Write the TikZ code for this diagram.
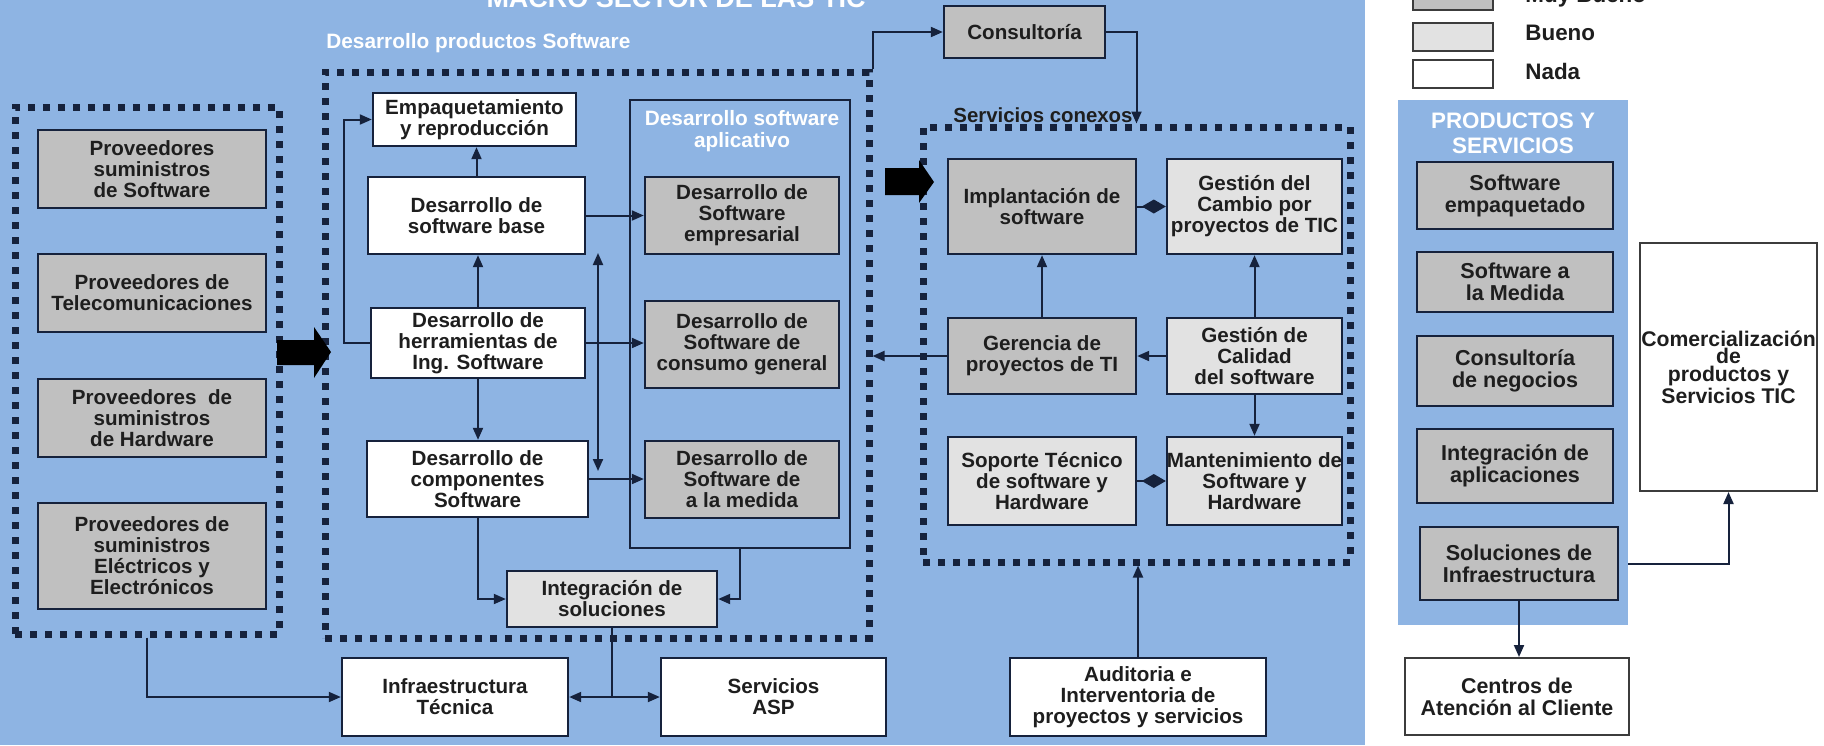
\documentclass[tikz,border=0pt]{standalone}
\usepackage{fontspec}
\setmainfont{Liberation Sans}
\usetikzlibrary{arrows.meta}
\definecolor{bgblue}{RGB}{142,180,227}
\definecolor{navy}{RGB}{22,34,60}
\definecolor{mbgray}{RGB}{192,192,192}
\definecolor{bgray}{RGB}{226,226,226}
\definecolor{txt}{RGB}{30,30,30}
\definecolor{lgborder}{RGB}{60,60,60}
\begin{document}
\begin{tikzpicture}[x=0.5pt,y=-0.5pt,
  px/.style args={#1/#2/#3/#4}{at={({(#1+#3)/2},{(#2+#4)/2})}, minimum width={(#3-#1)*0.5pt}, minimum height={(#4-#2)*0.5pt}},
  bx/.style={draw=navy, line width=1.2pt, inner sep=0pt, align=center, text=txt, font=\bfseries\fontsize{10.3}{10.5}\selectfont},
  mb/.style={bx, fill=mbgray},
  bu/.style={bx, fill=bgray},
  wh/.style={bx, fill=white},
  rbx/.style={bx, fill=mbgray, font=\bfseries\fontsize{10.8}{11}\selectfont},
  dotbox/.style={draw=navy, line width=3.5pt, dash pattern=on 3.5pt off 4pt, inner sep=0pt},
  arr/.style={draw=navy, line width=1pt, -{Triangle[length=6pt,width=5pt]}},
  arrtwo/.style={draw=navy, line width=1pt, {Triangle[length=6pt,width=5pt]}-{Triangle[length=6pt,width=5pt]}},
  ln/.style={draw=navy, line width=1pt},
  dia/.style={draw=navy, line width=1pt, -{Diamond[length=12pt,width=7pt]}},
  wlbl/.style={text=white, align=center, inner sep=0pt, font=\bfseries\fontsize{10.4}{11}\selectfont},
  lgbox/.style={draw=lgborder, line width=1.2pt, inner sep=0pt},
  lgtxt/.style={anchor=base west, inner sep=0pt, text=txt, font=\bfseries\fontsize{11.2}{12}\selectfont}
]
\useasboundingbox (0,0) rectangle (1824,745);
\fill[white] (0,0) rectangle (1824,745);
\fill[bgblue] (0,0) rectangle (1365,745);

% titles
\node[anchor=base, inner sep=0pt, text=white, font=\bfseries\fontsize{13.5}{14}\selectfont] (title) at (676,7) {MACRO SECTOR DE LAS TIC};
\node[wlbl, anchor=west] (lbldp) at (326,43) {Desarrollo productos Software};
\node[anchor=west, inner sep=0pt, text=txt, font=\bfseries\fontsize{10.2}{11}\selectfont] (lblsc) at (953,115) {Servicios conexos};

% dotted groups
\node[dotbox, px=15/107/279/634] (prov) {};
\node[dotbox, px=325/72/869/638] (dp) {};
\node[dotbox, px=923/127/1350/562] (sc) {};

% container aplicativo
\node[draw=navy, line width=1pt, fill=bgblue, inner sep=0pt, px=630/100/850/548] (apl) {};
\node[wlbl] (lblapl) at (742,131) {Desarrollo software\\aplicativo};

% proveedores
\node[mb, px=38/130/266/208] (p1) {Proveedores\\suministros\\de Software};
\node[mb, px=38/254/266/332] (p2) {Proveedores de\\Telecomunicaciones};
\node[mb, px=38/379/266/457] (p3) {Proveedores~~de\\suministros\\de Hardware};
\node[mb, px=38/503/266/609] (p4) {Proveedores de\\suministros\\Eléctricos y\\Electrónicos};

% desarrollo productos software
\node[wh, px=373/93/576/146] (emp) {Empaquetamiento\\y reproducción};
\node[wh, px=368/177/585/254] (base) {Desarrollo de\\software base};
\node[wh, px=371/308/585/378] (herr) {Desarrollo de\\herramientas de\\Ing. Software};
\node[wh, px=367/441/588/517] (comp) {Desarrollo de\\componentes\\Software};
\node[mb, px=645/177/839/254] (empr) {Desarrollo de\\Software\\empresarial};
\node[mb, px=645/301/839/388] (cons) {Desarrollo de\\Software de\\consumo general};
\node[mb, px=645/441/839/518] (med) {Desarrollo de\\Software de\\a la medida};
\node[bu, px=507/571/717/627] (integ) {Integración de\\soluciones};

% bottom
\node[wh, px=342/658/568/736] (infra) {Infraestructura\\Técnica};
\node[wh, px=661/658/886/736] (asp) {Servicios\\ASP};
\node[wh, px=1010/658/1266/736] (aud) {Auditoria e\\Interventoria de\\proyectos y servicios};

% consultoria
\node[mb, px=944/6/1105/58] (consult) {Consultoría};

% servicios conexos
\node[mb, px=948/159/1136/254] (impl) {Implantación de\\software};
\node[bu, px=1167/159/1342/254] (gcam) {Gestión del\\Cambio por\\\makebox[0pt]{proyectos de TIC}};
\node[mb, px=948/318/1136/394] (ger) {Gerencia de\\proyectos de TI};
\node[bu, px=1167/318/1342/394] (gcal) {Gestión de\\Calidad\\del software};
\node[bu, px=948/437/1136/525] (sop) {Soporte Técnico\\de software y\\Hardware};
\node[bu, px=1167/437/1342/525] (mant) {\makebox[0pt]{Mantenimiento de}\\Software y\\Hardware};

% legend
\node[lgbox, fill=mbgray, px=1413/-18/1493/10] (lgmb) {};
\node[lgbox, fill=bgray, px=1413/23/1493/51] (lgbu) {};
\node[lgbox, fill=white, px=1413/60/1493/88] (lgna) {};
\node[lgtxt] (tmb) at (1525,2) {Muy Bueno};
\node[lgtxt] (tbu) at (1525,40) {Bueno};
\node[lgtxt] (tna) at (1525,79) {Nada};

% productos y servicios
\node[fill=bgblue, inner sep=0pt, px=1398/100/1628/625] (panel) {};
\node[text=white, align=center, inner sep=0pt, font=\bfseries\fontsize{11.2}{12.5}\selectfont] (lblps) at (1513,133) {PRODUCTOS Y\\SERVICIOS};
\node[rbx, px=1417/162/1613/229] (r1) {Software\\empaquetado};
\node[rbx, px=1417/252/1613/312] (r2) {Software a\\la Medida};
\node[rbx, px=1417/336/1613/406] (r3) {Consultoría\\de negocios};
\node[rbx, px=1417/429/1613/503] (r4) {Integración de\\aplicaciones};
\node[rbx, px=1420/527/1618/600] (r5) {Soluciones de\\Infraestructura};
\node[bx, draw=lgborder, fill=white, line width=1pt, font=\bfseries\fontsize{10.6}{8.8}\selectfont, px=1640/243/1817/491] (com) {\makebox[0pt]{Comercialización}\\de\\productos y\\Servicios TIC};
\node[bx, draw=lgborder, fill=white, line width=1pt, font=\bfseries\fontsize{10.7}{11}\selectfont, px=1405/658/1629/735] (cen) {Centros de\\Atención al Cliente};

% connectors desarrollo productos
\draw[arr] (base.north) -- (base.north |- emp.south);
\draw[arr] (herr.west) -- ++(-26,0) |- (emp.west);
\draw[arr] (herr.north) -- (herr.north |- base.south);
\draw[arr] (herr.south) -- (herr.south |- comp.north);
\coordinate (da1) at (598,253);
\coordinate (da2) at (598,471);
\draw[arrtwo] (da1) -- (da2);
\draw[arr] (base.east) -- (base.east -| empr.west);
\draw[arr] (herr.east) -- (herr.east -| cons.west);
\draw[arr] (comp.east) -- (comp.east -| med.west);
\draw[arr] (comp.south) |- (integ.west);
\draw[arr] (apl.south) |- (integ.east);
\draw[ln] (integ.south) -- (integ.south |- infra.east) coordinate (sp);
\draw[arr] (sp) -- (infra.east);
\draw[arr] (sp) -- (asp.west);
\draw[arr] (prov.south) |- (infra.west);
\draw[arr] (dp.north east) |- (consult.west);
\draw[arr] (consult.east) -| (sc.north);
\draw[arr] (aud.north) -- (aud.north |- sc.south);

% servicios conexos connectors
\draw[arr] (ger.north) -- (ger.north |- impl.south);
\draw[arr] (gcal.north) -- (gcal.north |- gcam.south);
\draw[arr] (gcal.west) -- (gcal.west -| ger.east);
\draw[arr] (gcal.south) -- (gcal.south |- mant.north);
\draw[arr] (ger.west) -- (ger.west -| dp.east);
\draw[dia] (impl.east) -- (gcam.west);
\draw[dia] (sop.east) -- (mant.west);

% right connectors
\draw[arr] (panel.east |- r5.east) -| (com.south);
\draw[arr] (r5.south) -- (r5.south |- cen.north);

% thick arrows
\fill[black] (277,340) -- (314,340) -- (314,327) -- (331,352) -- (314,378) -- (314,365) -- (277,365) -- cycle;
\fill[black] (885,168) -- (919,168) -- (919,160) -- (934,182) -- (919,203) -- (919,195) -- (885,195) -- cycle;
\end{tikzpicture}
\end{document}
